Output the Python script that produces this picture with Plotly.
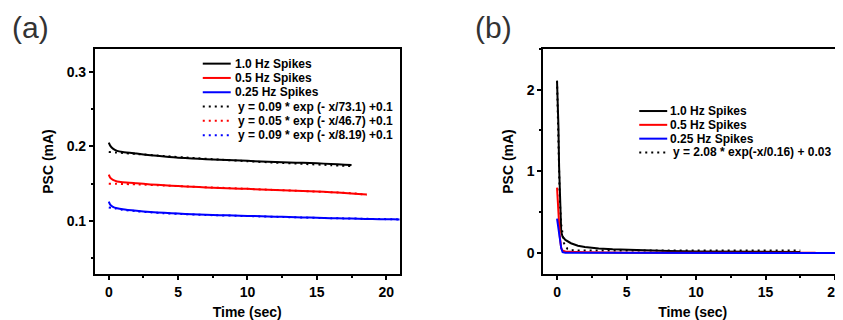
import plotly.graph_objects as go

# The page places the figure 8px in from the top-left corner (default body margin),
# so the figure is sized to fill the remaining visible window.
PAGE_W, PAGE_H, OFF = 843, 320, 8
W, H = PAGE_W - OFF, PAGE_H - OFF

# ---------------- Panel (a) data ----------------
t_a_1hz = [0, 0.1, 0.3, 0.6, 1, 2, 3, 4, 5, 6, 7, 8, 9, 10, 11, 12, 13, 14, 15, 16, 17, 17.5]
psc_a_1hz = [0.205, 0.201, 0.197, 0.194, 0.1925, 0.1903, 0.1882, 0.1864, 0.1848, 0.1838, 0.1828,
             0.1820, 0.1813, 0.1806, 0.1798, 0.1791, 0.1785, 0.1779, 0.1773, 0.1764, 0.1755, 0.1750]

t_a_05hz = [0, 0.1, 0.3, 0.6, 1, 2, 3, 4, 5, 6, 7, 8, 9, 10, 11, 12, 13, 14, 15, 16, 17, 18, 18.6]
psc_a_05hz = [0.162, 0.158, 0.155, 0.153, 0.152, 0.1505, 0.149, 0.1478, 0.1467, 0.1458, 0.145,
              0.1443, 0.1436, 0.143, 0.1423, 0.1416, 0.1409, 0.1402, 0.1395, 0.1385, 0.1375, 0.1362, 0.1355]

t_a_025hz = [0, 0.1, 0.3, 0.6, 1, 2, 3, 4, 5, 6, 7, 8, 9, 10, 11, 12, 13, 14, 15, 16, 17, 18, 19, 20, 21, 22]
psc_a_025hz = [0.126, 0.122, 0.119, 0.117, 0.1155, 0.1135, 0.112, 0.1108, 0.1098, 0.109, 0.1083,
               0.1077, 0.1072, 0.1067, 0.1062, 0.1057, 0.1052, 0.1047, 0.1042, 0.1037, 0.1033,
               0.1029, 0.1025, 0.1022, 0.102, 0.1018]

t_a_fit_1hz = [0, 2, 4, 6, 8, 10, 12, 14, 16, 17.5]
psc_a_fit_1hz = [0.1925, 0.1898, 0.1870, 0.1845, 0.1822, 0.1801, 0.1782, 0.1765, 0.1748, 0.1735]

t_a_fit_05hz = [0, 2, 4, 6, 8, 10, 12, 14, 16, 18, 18.6]
psc_a_fit_05hz = [0.150, 0.149, 0.1475, 0.146, 0.1445, 0.143, 0.1415, 0.140, 0.1385, 0.1365, 0.135]

t_a_fit_025hz = [0, 0.5, 1, 2, 3, 4, 5, 7, 10, 13, 16, 19, 21]
psc_a_fit_025hz = [0.118, 0.1165, 0.115, 0.113, 0.1115, 0.1103, 0.1094, 0.108, 0.1065, 0.105,
                   0.1037, 0.1027, 0.102]

# ---------------- Panel (b) data ----------------
t_b_1hz = [0, 0.05, 0.1, 0.15, 0.2, 0.25, 0.3, 0.4, 0.6, 1, 1.5, 2, 3, 4, 5, 6, 8, 10, 12, 14, 16, 17.5]
psc_b_1hz = [2.10, 1.90, 1.55, 1.05, 0.65, 0.38, 0.26, 0.20, 0.16, 0.12, 0.09, 0.075, 0.055, 0.045,
             0.038, 0.032, 0.025, 0.020, 0.018, 0.016, 0.015, 0.014]

t_b_05hz = [0, 0.05, 0.1, 0.2, 0.3, 0.4, 0.6, 1, 2, 5, 10, 18.6]
psc_b_05hz = [0.80, 0.70, 0.50, 0.20, 0.06, 0.03, 0.02, 0.015, 0.010, 0.005, 0.003, 0.002]

t_b_025hz = [0, 0.1, 0.2, 0.3, 0.4, 0.6, 1, 5, 10, 22]
psc_b_025hz = [0.42, 0.30, 0.17, 0.06, 0.01, 0.003, 0.002, 0.001, 0.0005, 0.0]

t_b_fit = [0, 0.1, 0.2, 0.3, 0.4, 0.5, 0.75, 1, 1.5, 2, 5, 10, 15, 17.5]
psc_b_fit = [2.11, 1.14, 0.63, 0.35, 0.20, 0.12, 0.05, 0.035, 0.031, 0.03, 0.03, 0.03, 0.03, 0.03]

# ---------------- labels ----------------
names_a = ["1.0 Hz Spikes", "0.5 Hz Spikes", "0.25 Hz Spikes",
           "y = 0.09 * exp (- x/73.1) +0.1",
           "y = 0.05 * exp (- x/46.7) +0.1",
           "y = 0.09 * exp (- x/8.19) +0.1"]
names_b = ["1.0 Hz Spikes", "0.5 Hz Spikes", "0.25 Hz Spikes",
           "y = 2.08 * exp(-x/0.16) + 0.03"]
colors = ["#000000", "#ff0000", "#0000ff"]
x_ticks = [0, 5, 10, 15, 20]

FONT = "Liberation Sans, Arial, sans-serif"
DOT = "2px,4px"

fig = go.Figure()

# panel (a) traces
series_a = [(t_a_1hz, psc_a_1hz, colors[0], "solid"),
            (t_a_05hz, psc_a_05hz, colors[1], "solid"),
            (t_a_025hz, psc_a_025hz, colors[2], "solid"),
            (t_a_fit_1hz, psc_a_fit_1hz, colors[0], DOT),
            (t_a_fit_05hz, psc_a_fit_05hz, colors[1], DOT),
            (t_a_fit_025hz, psc_a_fit_025hz, colors[2], DOT)]
for (tx, ty, c, d), nm in zip(series_a, names_a):
    fig.add_trace(go.Scatter(x=tx, y=ty, mode="lines", name=nm,
                             line=dict(color=c, width=2, dash=d, shape="spline", smoothing=0.6),
                             showlegend=False, xaxis="x", yaxis="y"))

# panel (b) traces
series_b = [(t_b_1hz, psc_b_1hz, colors[0], "solid"),
            (t_b_fit, psc_b_fit, colors[0], DOT),
            (t_b_05hz, psc_b_05hz, colors[1], "solid"),
            (t_b_025hz, psc_b_025hz, colors[2], "solid")]
names_b_order = [names_b[0], names_b[3], names_b[1], names_b[2]]
for (tx, ty, c, d), nm in zip(series_b, names_b_order):
    fig.add_trace(go.Scatter(x=tx, y=ty, mode="lines", name=nm,
                             line=dict(color=c, width=2, dash=d),
                             showlegend=False, xaxis="x2", yaxis="y2"))


def px_x(p):
    """page pixel x -> paper fraction"""
    return (p - OFF) / W


def px_y(p):
    """page pixel y -> paper fraction"""
    return 1 - (p - OFF) / H


axis_common = dict(showgrid=False, zeroline=False, showline=True, linecolor="black",
                   linewidth=2, ticks="outside", ticklen=4, tickwidth=2, tickcolor="black",
                   tickfont=dict(family=FONT, size=14, color="black", weight="bold"),
                   title_font=dict(family=FONT, size=14, color="black", weight="bold"))
minor_x = dict(dtick=2.5, ticks="outside", ticklen=2, tickwidth=2, tickcolor="black")

fig.update_layout(
    width=W, height=H, margin=dict(l=0, r=0, t=0, b=0),
    paper_bgcolor="white", plot_bgcolor="white", showlegend=False,
    xaxis=dict(axis_common, domain=[px_x(95), px_x(400)], range=[-1.0, 20.96], anchor="y",
               tickvals=x_ticks, mirror=True, title=dict(text="Time (sec)", standoff=10),
               minor=minor_x),
    yaxis=dict(axis_common, domain=[px_y(276), px_y(49)], range=[0.0284, 0.331], anchor="x",
               dtick=0.1, mirror=True, title=dict(text="PSC (mA)", standoff=10),
               minor=dict(dtick=0.05, ticks="outside", ticklen=2, tickwidth=2, tickcolor="black")),
    xaxis2=dict(axis_common, domain=[px_x(544), 1.0], range=[-0.984, 20.5], anchor="y2",
                tickvals=x_ticks, mirror=True, title=dict(text="Time (sec)", standoff=10),
                minor=minor_x, ticklabeloverflow="allow"),
    yaxis2=dict(axis_common, domain=[px_y(276), px_y(49)], range=[-0.26, 2.5], anchor="x2",
                dtick=1, mirror=False, title=dict(text="PSC (mA)", standoff=10),
                minor=dict(dtick=0.5, ticks="outside", ticklen=2, tickwidth=2, tickcolor="black")),
)

# panel letters
for txt, cx in [("(a)", 31), ("(b)", 494.5)]:
    fig.add_annotation(text=txt, x=px_x(cx), y=px_y(28), xref="paper", yref="paper",
                       xanchor="center", yanchor="middle", showarrow=False,
                       font=dict(family=FONT, size=30, color="#333333"))

# manual legends (compact rows)
leg_a = dict(x0=203, x1=231, row0=64, step=14.4, tx_solid=233, tx_dot=236)
leg_b = dict(x0=640, x1=668, row0=111.7, step=13.9, tx_solid=669, tx_dot=672)
styles_a = [(colors[0], "solid"), (colors[1], "solid"), (colors[2], "solid"),
            (colors[0], DOT), (colors[1], DOT), (colors[2], DOT)]
styles_b = [(colors[0], "solid"), (colors[1], "solid"), (colors[2], "solid"), (colors[0], DOT)]
for leg, names, styles in [(leg_a, names_a, styles_a), (leg_b, names_b, styles_b)]:
    for i, (nm, (c, d)) in enumerate(zip(names, styles)):
        yy = px_y(leg["row0"] + i * leg["step"])
        fig.add_shape(type="line", xref="paper", yref="paper",
                      x0=px_x(leg["x0"]), x1=px_x(leg["x1"]), y0=yy, y1=yy,
                      line=dict(color=c, width=2, dash=d))
        tx = leg["tx_solid"] if d == "solid" else leg["tx_dot"]
        fig.add_annotation(text=nm, x=px_x(tx), y=yy, xref="paper", yref="paper",
                           xanchor="left", yanchor="middle", showarrow=False,
                           font=dict(family=FONT, size=12, color="black", weight="bold"))

fig.write_html("out.html")
